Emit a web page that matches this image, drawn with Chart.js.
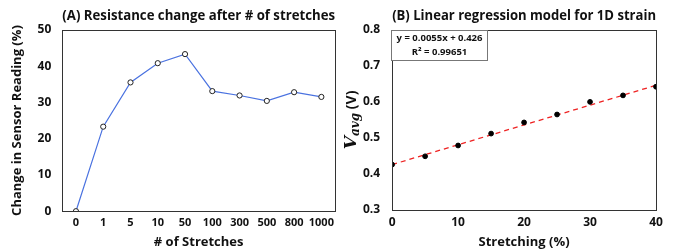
<!DOCTYPE html>
<html>
<head>
<meta charset="utf-8">
<script src="https://cdn.jsdelivr.net/npm/chart.js@4"></script>
<style>
  body{margin:0;background:#fff;}
  #wrapA{position:absolute;left:0;top:0;width:340px;height:250px;}
  #wrapB{position:absolute;left:340px;top:0;width:343px;height:250px;}
</style>
</head>
<body>
<div id="wrapA"><canvas id="chartA"></canvas></div>
<div id="wrapB"><canvas id="chartB"></canvas></div>
<script>

// (A) data
var stretchLabels = ['0','1','5','10','50','100','300','500','800','1000'];
var resistanceChange = [0, 23.3, 35.5, 40.8, 43.3, 33.1, 31.9, 30.4, 32.8, 31.5];

// (B) data
var strainPct = [0, 5, 10, 15, 20, 25, 30, 35, 40];
var vAvg = [0.426, 0.449, 0.479, 0.512, 0.543, 0.565, 0.600, 0.618, 0.642];
var trendX = [0, 40];
var trendY = [0.426, 0.646];
var eqLines = ['y = 0.0055x + 0.426', 'R² = 0.99651'];

var FONT = "'Open Sans'";
Chart.defaults.font.family = FONT;
Chart.defaults.font.weight = 'bold';
Chart.defaults.color = '#111';

var boxPlugin = {
  id: 'plotBox',
  afterDraw: function(chart){
    var a = chart.chartArea, ctx = chart.ctx;
    ctx.save();
    ctx.strokeStyle = '#333';
    ctx.lineWidth = 1;
    ctx.strokeRect(Math.round(a.left)+0.5, Math.round(a.top)+0.5, Math.round(a.right-a.left), Math.round(a.bottom-a.top));
    ctx.restore();
  }
};

var chart = new Chart(document.getElementById("chartA"), {
  type: 'line',
  data: {
    labels: stretchLabels,
    datasets: [{
      data: resistanceChange,
      borderColor: '#4a72e0',
      borderWidth: 1.2,
      pointRadius: 2.6,
      pointBorderWidth: 1,
      pointBorderColor: '#222',
      pointBackgroundColor: '#fff',
      fill: false,
      tension: 0
    }]
  },
  options: {
    animation: false,
    responsive: true,
    maintainAspectRatio: false,
    layout: {padding: {left: 9, right: 5, top: 0, bottom: 0}},
    plugins: {
      legend: {display: false},
      tooltip: {enabled: false},
      title: {
        display: true,
        fullSize: false,
        text: '(A) Resistance change after # of stretches',
        font: {size: 14, weight: 'bold'},
        color: '#111',
        padding: {top: 8, bottom: 5}
      }
    },
    scales: {
      x: {
        offset: true,
        grid: {display: false, drawTicks: false},
        border: {display: false},
        ticks: {font: {size: 11, weight: 'bold'}, padding: 5, maxRotation: 0, autoSkip: false},
        title: {display: true, text: '# of Stretches', font: {size: 13, weight: 'bold'}, padding: {top: 0, bottom: 0}}
      },
      y: {
        min: 0, max: 50,
        grid: {display: false, drawTicks: false},
        border: {display: false},
        ticks: {stepSize: 10, font: {size: 12, weight: 'bold'}, padding: 11},
        title: {display: true, text: 'Change in Sensor Reading (%)', font: {size: 13, weight: 'bold'}, padding: {top: 0, bottom: 2}}
      }
    }
  },
  plugins: [boxPlugin]
});

var eqPlugin = {
  id: 'eqBox',
  afterDraw: function(c){
    var a = c.chartArea, ctx = c.ctx;
    ctx.save();
    var x0 = Math.round(a.left) - 0.5, y0 = Math.round(a.top) + 0.5;
    ctx.fillStyle = '#fff';
    ctx.fillRect(x0, y0, 96, 30);
    ctx.strokeStyle = '#777';
    ctx.lineWidth = 1;
    ctx.strokeRect(x0, y0, 96, 30);
    ctx.fillStyle = '#111';
    ctx.font = 'bold 9.5px ' + FONT;
    ctx.textBaseline = 'middle';
    ctx.textAlign = 'center';
    ctx.fillText(eqLines[0], x0 + 48, y0 + 8);
    ctx.fillText(eqLines[1], x0 + 48, y0 + 22);
    ctx.restore();
  }
};

var vLabelPlugin = {
  id: 'vLabel',
  afterDraw: function(c){
    var ctx = c.ctx, a = c.chartArea;
    ctx.save();
    ctx.translate(10, (a.top + a.bottom) / 2);
    ctx.rotate(-Math.PI / 2);
    ctx.fillStyle = '#111';
    ctx.textBaseline = 'alphabetic';
    ctx.textAlign = 'left';
    var fV = 'italic bold 17px "DejaVu Serif"';
    var fS = 'italic bold 12px "DejaVu Serif"';
    var fP = 'bold 14px ' + FONT;
    ctx.font = fV; var wV = ctx.measureText('V').width;
    ctx.font = fS; var wS = ctx.measureText('avg').width;
    ctx.font = fP; var wP = ctx.measureText(' (V)').width;
    var x = -(wV + wS + wP) / 2;
    ctx.font = fV; ctx.fillText('V', x, 6); x += wV;
    ctx.font = fS; ctx.fillText('avg', x, 9); x += wS;
    ctx.font = fP; ctx.fillText(' (V)', x, 6);
    ctx.restore();
  }
};

chart = new Chart(document.getElementById("chartB"), {
  type: 'scatter',
  data: {
    datasets: [{
      data: strainPct.map(function(x, i){ return {x: x, y: vAvg[i]}; }),
      pointRadius: 2.4,
      pointBackgroundColor: '#000',
      pointBorderColor: '#000',
      showLine: false
    }, {
      data: trendX.map(function(x, i){ return {x: x, y: trendY[i]}; }),
      showLine: true,
      borderColor: '#ee2222',
      borderWidth: 1.3,
      borderDash: [5, 4],
      pointRadius: 0
    }]
  },
  options: {
    animation: false,
    responsive: true,
    maintainAspectRatio: false,
    layout: {padding: {left: 11, right: 27, top: 0, bottom: 0}},
    plugins: {
      legend: {display: false},
      tooltip: {enabled: false},
      title: {
        display: true,
        fullSize: false,
        text: '(B) Linear regression model for 1D strain',
        font: {size: 14, weight: 'bold'},
        color: '#111',
        padding: {top: 8, bottom: 5}
      }
    },
    scales: {
      x: {
        min: 0, max: 40,
        grid: {display: false, drawTicks: false},
        border: {display: false},
        ticks: {stepSize: 10, font: {size: 12, weight: 'bold'}, padding: 5, maxRotation: 0},
        title: {display: true, text: 'Stretching (%)', font: {size: 13, weight: 'bold'}, padding: {top: 0, bottom: 0}}
      },
      y: {
        min: 0.3, max: 0.8,
        grid: {display: false, drawTicks: false},
        border: {display: false},
        ticks: {stepSize: 0.1, font: {size: 12, weight: 'bold'}, padding: 12,
          callback: function(v){ return v.toFixed(1); }},
        title: {display: false}
      }
    }
  },
  plugins: [boxPlugin, eqPlugin, vLabelPlugin]
});

</script>
</body>
</html>
